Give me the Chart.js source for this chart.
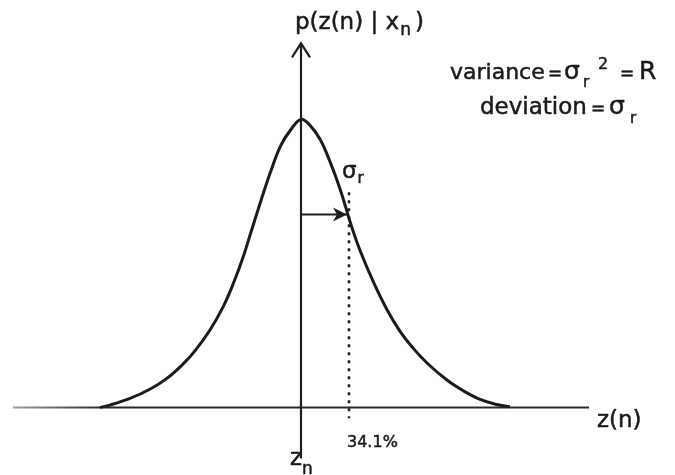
<!DOCTYPE html>
<html>
<head>
<meta charset="utf-8">
<script src="https://cdn.jsdelivr.net/npm/chart.js@4.4.1/dist/chart.umd.min.js"></script>
<style>
  html, body { margin: 0; padding: 0; background: #fff; }
  canvas { display: block; }
</style>
</head>
<body>
<canvas id="c" width="675" height="475" style="width:675px;height:475px"></canvas>
<script>
// Measurement density p(z(n) | x_n): z in units of sigma_r around z_n, p relative to the peak
const zValues = [
  -4.19, -3.98, -3.55, -3.15, -2.80, -2.46, -2.24, -1.90, -1.62, -1.41, -1.20, -1.03, -0.83, -0.63, -0.42, -0.21,
  0,
  0.21, 0.40, 0.60, 0.81, 1.06, 1.23, 1.51, 1.79, 2.06, 2.34, 2.62, 3.04, 3.38, 3.73, 4.08, 4.35
];
const pValues = [
  0.000, 0.008, 0.032, 0.063, 0.100, 0.150, 0.190, 0.268, 0.350, 0.430, 0.525, 0.615, 0.720, 0.820, 0.910, 0.965,
  1.000,
  0.975, 0.930, 0.855, 0.760, 0.625, 0.545, 0.435, 0.340, 0.265, 0.205, 0.155, 0.095, 0.058, 0.028, 0.010, 0.002
];

// Axis extents
const zRange = [-6, 6];
const pRange = [-0.2, 1.3];
const pAxisSpan = [-0.177, 1.264];

// One standard deviation marker
const sigma = 1;
const sigmaArrowLevel = 0.67;
const sigmaDotSpan = [-0.038, 0.747];
const coverageLabel = '34.1%';

const FONT = '"DejaVu Sans", sans-serif';
const INK = '#1b1b1b';

// Draw a run of text pieces (sub/superscripts via dy); "x" pins a piece to an absolute position
function drawParts(ctx, x, y, parts) {
  let cx = x;
  ctx.lineWidth = 0.5;
  ctx.strokeStyle = INK;
  for (const p of parts) {
    ctx.font = (p.s || 22) + 'px ' + FONT;
    if (p.x !== undefined) cx = p.x;
    cx += (p.gap || 0);
    ctx.fillText(p.t, cx, y + (p.dy || 0));
    ctx.strokeText(p.t, cx, y + (p.dy || 0));
    cx += ctx.measureText(p.t).width;
  }
}

const diagram = {
  id: 'diagram',
  beforeDatasetsDraw(chart) {
    const { ctx, chartArea } = chart;
    const xs = chart.scales.x, ys = chart.scales.y;
    const x0 = xs.getPixelForValue(0);
    const y0 = ys.getPixelForValue(0);
    ctx.save();
    ctx.lineCap = 'butt';
    // horizontal axis (faint at the far left)
    ctx.lineWidth = 2;
    const g = ctx.createLinearGradient(chartArea.left, 0, chartArea.left + 90, 0);
    g.addColorStop(0, '#a0a0a0');
    g.addColorStop(1, '#2a2a2a');
    ctx.strokeStyle = g;
    ctx.beginPath();
    ctx.moveTo(chartArea.left, y0);
    ctx.lineTo(chartArea.right, y0);
    ctx.stroke();
    // vertical axis with open arrow head
    ctx.strokeStyle = '#1e1e1e';
    ctx.lineWidth = 2.2;
    const yTop = ys.getPixelForValue(pAxisSpan[1]);
    const yBot = ys.getPixelForValue(pAxisSpan[0]);
    ctx.beginPath();
    ctx.moveTo(x0, yBot);
    ctx.lineTo(x0, yTop);
    ctx.stroke();
    ctx.beginPath();
    ctx.moveTo(x0 - 9, yTop + 14);
    ctx.lineTo(x0, yTop);
    ctx.lineTo(x0 + 9, yTop + 14);
    ctx.stroke();
    // dotted sigma line
    const xs1 = xs.getPixelForValue(sigma);
    ctx.lineWidth = 2.5;
    ctx.setLineDash([3, 5]);
    ctx.beginPath();
    ctx.moveTo(xs1, ys.getPixelForValue(sigmaDotSpan[1]));
    ctx.lineTo(xs1, ys.getPixelForValue(sigmaDotSpan[0]));
    ctx.stroke();
    ctx.setLineDash([]);
    // arrow from the mean to one sigma
    const ya = ys.getPixelForValue(sigmaArrowLevel);
    const tip = xs1 - 2;
    ctx.lineWidth = 2;
    ctx.beginPath();
    ctx.moveTo(x0, ya);
    ctx.lineTo(tip, ya);
    ctx.stroke();
    ctx.fillStyle = '#1e1e1e';
    ctx.beginPath();
    ctx.moveTo(tip, ya);
    ctx.lineTo(tip - 14, ya - 7);
    ctx.lineTo(tip - 10, ya);
    ctx.lineTo(tip - 14, ya + 7);
    ctx.closePath();
    ctx.fill();
    ctx.restore();
  },
  afterDraw(chart) {
    const { ctx } = chart;
    const xs = chart.scales.x, ys = chart.scales.y;
    const x0 = xs.getPixelForValue(0);
    const y0 = ys.getPixelForValue(0);
    const xs1 = xs.getPixelForValue(sigma);
    ctx.save();
    ctx.fillStyle = INK;
    ctx.textBaseline = 'alphabetic';
    // axis titles
    drawParts(ctx, x0 - 6, 29, [
      { t: 'p(z(n) | x', s: 23 }, { t: 'n', s: 17, dy: 6, gap: 1 }, { t: ')', s: 23, gap: 4 }
    ]);
    drawParts(ctx, 597, y0 + 20, [{ t: 'z(n)', s: 23 }]);
    drawParts(ctx, x0 - 11, 465, [{ t: 'z', s: 23 }, { t: 'n', s: 17, dy: 9 }]);
    // parameters
    drawParts(ctx, 450, 79, [
      { t: 'variance', s: 22 }, { t: '=', s: 17, x: 548 }, { t: 'σ', s: 25, x: 564 },
      { t: 'r', s: 15, dy: 8, x: 583 }, { t: '2', s: 16, dy: -10, x: 598 },
      { t: '=', s: 17, x: 620 }, { t: 'R', s: 25, x: 639 }
    ]);
    drawParts(ctx, 480, 114, [
      { t: 'deviation', s: 23 }, { t: '=', s: 17, x: 591 }, { t: 'σ', s: 25, x: 609 },
      { t: 'r', s: 15, dy: 9, x: 630 }
    ]);
    // sigma marker labels
    drawParts(ctx, xs1 - 7, 178, [{ t: 'σ', s: 23 }, { t: 'r', s: 15, dy: 5, gap: 1 }]);
    drawParts(ctx, xs1 - 2, 447, [{ t: coverageLabel, s: 16 }]);
    ctx.restore();
  }
};

new Chart(document.getElementById('c'), {
  type: 'scatter',
  data: {
    datasets: [{
      data: zValues.map((z, i) => ({ x: z, y: pValues[i] })),
      showLine: true,
      borderColor: INK,
      borderWidth: 3,
      pointRadius: 0,
      tension: 0.4,
      fill: false
    }]
  },
  options: {
    responsive: false,
    animation: false,
    layout: { padding: { left: 13, right: 86, top: 33, bottom: 10 } },
    plugins: { legend: { display: false }, tooltip: { enabled: false } },
    scales: {
      x: { type: 'linear', min: zRange[0], max: zRange[1], display: false },
      y: { type: 'linear', min: pRange[0], max: pRange[1], display: false }
    }
  },
  plugins: [diagram]
});
</script>
</body>
</html>
